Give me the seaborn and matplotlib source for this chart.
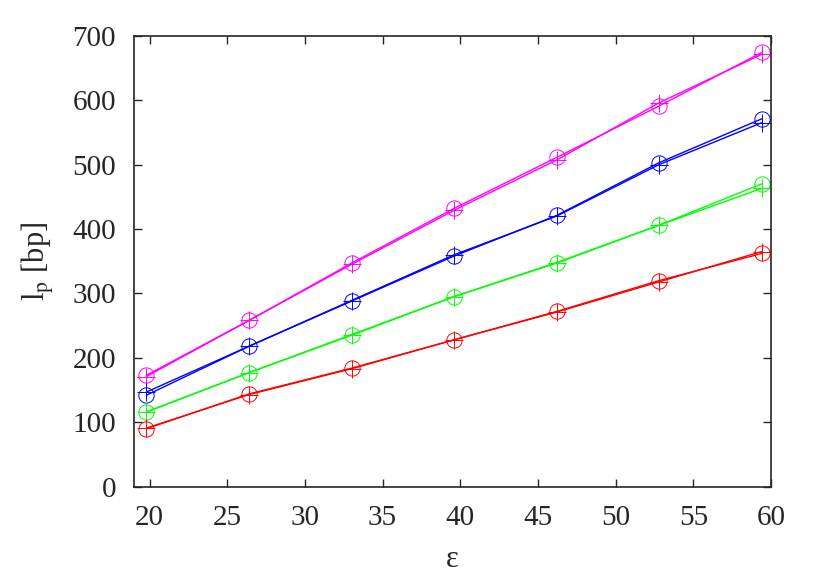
import seaborn as sns
import matplotlib.pyplot as plt
import pandas as pd

# datos
eps = [19.8, 26.4, 33.0, 39.6, 46.2, 52.8, 59.4]

mag_circ = [173, 258, 347, 432, 511, 591, 674]
mag_plus = [171, 258, 345, 429, 507, 596, 671]
blue_circ = [142, 218, 288, 358, 421, 503, 571]
blue_plus = [147, 218, 289, 360, 420, 500, 565]
green_circ = [116, 177, 235, 295, 347, 406, 470]
green_plus = [116, 177, 236, 295, 348, 406, 463]
red_circ = [90, 144, 184, 228, 272, 320, 362]
red_plus = [91, 143, 183, 228, 271, 318, 365]

series = [
    ("#ff00ff", mag_circ, mag_plus),
    ("#0000ff", blue_circ, blue_plus),
    ("#00ff00", green_circ, green_plus),
    ("#ff0000", red_circ, red_plus),
]

sns.set_style("ticks")
plt.rcParams['font.family'] = ['Liberation Serif', 'DejaVu Serif']
plt.rcParams['mathtext.fontset'] = 'stix'

fig = plt.figure(figsize=(8.22, 5.76), dpi=100)
ax = fig.add_axes([0.163, 0.155, 0.775, 0.783])

for color, circ, plus in series:
    df = pd.DataFrame({"eps": eps, "circ": circ, "plus": plus})
    sns.lineplot(data=df, x="eps", y="circ", ax=ax, color=color, lw=1,
                 marker="o", markersize=11, markerfacecolor="none",
                 markeredgecolor=color, markeredgewidth=0.7)
    sns.lineplot(data=df, x="eps", y="plus", ax=ax, color=color, lw=1,
                 marker="+", markersize=13, markeredgecolor=color,
                 markeredgewidth=0.7)

ax.set_xlim(19, 60)
ax.set_ylim(0, 700)
ax.set_xticks(range(20, 61, 5))
ax.set_yticks(range(0, 701, 100))
ax.tick_params(direction="in", length=6, width=1, labelsize=21,
               top=True, right=True, pad=13)
for s in ax.spines.values():
    s.set_linewidth(1.2)
ax.set_xlabel("ε", fontsize=22, labelpad=10)
ax.set_ylabel(r"l$_{\rm p}$ [bp]", fontsize=22, labelpad=12)

fig.savefig("out.png", dpi=100)
